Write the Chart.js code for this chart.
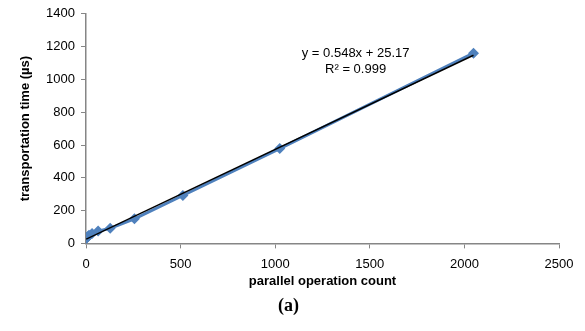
<!DOCTYPE html>
<html>
<head>
<meta charset="utf-8">
<script src="https://cdn.jsdelivr.net/npm/chart.js@4"></script>
<style>
  html, body { margin: 0; padding: 0; background: #fff; }
  #wrap { width: 585px; height: 331px; }
</style>
</head>
<body>
<div id="wrap"><canvas id="chart" width="585" height="331"></canvas></div>
<script>
// parallel operation count vs transportation time
let opCounts = [1, 2, 4, 8, 16, 32, 64, 128, 256, 512, 1024, 2048];
let timesUs = [30, 32, 35, 40, 50, 60, 75, 92, 150, 292, 578, 1160];

// linear trend line reported on the chart
let trendSlope = 0.548;
let trendIntercept = 25.17;
let trendText = ["y = 0.548x + 25.17", "R\u00b2 = 0.999"];

let xTicks = [0, 500, 1000, 1500, 2000, 2500];
let yTicks = [0, 200, 400, 600, 800, 1000, 1200, 1400];

let axisColor = "#868686";
let labelFont = { family: "'Liberation Sans', Arial, sans-serif", size: 13 };
let boldFont = { family: "'Liberation Sans', Arial, sans-serif", size: 13, weight: "bold" };

function trendPoints() {
	let first = opCounts[0];
	let last = opCounts[opCounts.length - 1];
	return [first, last].map(x => ({ x: x, y: trendSlope * x + trendIntercept }));
}

let equationLabel = {
	id: "equationLabel",
	afterDraw(chart) {
		let ctx = chart.ctx;
		let xs = chart.scales.x;
		let ys = chart.scales.y;
		ctx.save();
		ctx.fillStyle = "#000";
		ctx.font = "13px 'Liberation Sans', Arial, sans-serif";
		ctx.textAlign = "center";
		ctx.textBaseline = "middle";
		let cx = xs.getPixelForValue(1425);
		ctx.fillText(trendText[0], cx, ys.getPixelForValue(1160));
		ctx.fillText(trendText[1], cx, ys.getPixelForValue(1060));
		ctx.restore();
	}
};

let chart = new Chart(document.getElementById("chart"), {
	type: "scatter",
	data: {
		datasets: [
			{
				label: "trend",
				data: trendPoints(),
				showLine: true,
				borderColor: "#000",
				borderWidth: 1.5,
				pointRadius: 0,
				order: 0
			},
			{
				label: "transportation time",
				data: opCounts.map((x, i) => ({ x: x, y: timesUs[i] })),
				showLine: true,
				borderColor: "#4F81BD",
				borderWidth: 3,
				backgroundColor: "#4F81BD",
				pointStyle: "rectRot",
				pointRadius: 5.5,
				pointBorderWidth: 0,
				order: 1
			}
		]
	},
	options: {
		responsive: false,
		animation: false,
		layout: { padding: { top: 13, right: 26, left: 18, bottom: 14 } },
		plugins: {
			legend: { display: false },
			tooltip: { enabled: false },
			title: {
				display: true,
				position: "bottom",
				text: "(a)",
				color: "#000",
				font: { family: "'Liberation Serif', 'Times New Roman', serif", size: 18, weight: "bold" },
				padding: { top: 6, bottom: 0 }
			}
		},
		scales: {
			x: {
				type: "linear",
				min: 0,
				max: 2500,
				afterBuildTicks: axis => { axis.ticks = xTicks.map(v => ({ value: v })); },
				afterFit: axis => { axis.height = 46; },
				border: { color: axisColor, width: 1.5 },
				grid: { drawOnChartArea: false, drawTicks: true, tickLength: 5, color: axisColor },
				ticks: { color: "#000", font: labelFont, padding: 8, maxRotation: 0, callback: v => String(v) },
				title: {
					display: true,
					text: "parallel operation count",
					color: "#000",
					font: boldFont,
					padding: { top: 0, bottom: 0 }
				}
			},
			y: {
				type: "linear",
				min: 0,
				max: 1400,
				afterBuildTicks: axis => { axis.ticks = yTicks.map(v => ({ value: v })); },
				afterFit: axis => { axis.width = 68; },
				border: { color: axisColor, width: 1.5 },
				grid: { drawOnChartArea: false, drawTicks: true, tickLength: 5, color: axisColor },
				ticks: { color: "#000", font: labelFont, padding: 6, callback: v => String(v) },
				title: {
					display: true,
					text: "transportation time (\u00b5s)",
					color: "#000",
					font: boldFont,
					padding: { top: 0, bottom: 4 }
				}
			}
		}
	},
	plugins: [equationLabel]
});
</script>
</body>
</html>
